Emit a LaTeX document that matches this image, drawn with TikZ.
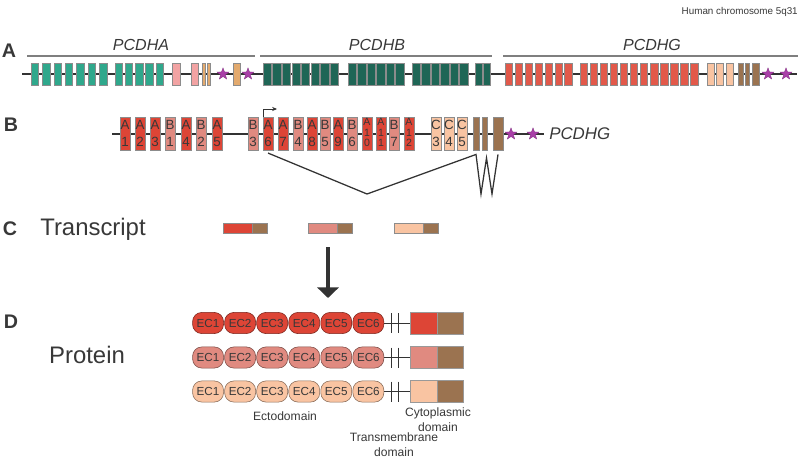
\documentclass[tikz,border=0pt]{standalone}
\usepackage{fontspec}
\setmainfont{Liberation Sans}
\usetikzlibrary{shapes.geometric,arrows.meta}

\definecolor{txt}{HTML}{383838}
\definecolor{chrline}{HTML}{333333}
\definecolor{bracket}{HTML}{7F7F7F}
\definecolor{alphaTeal}{HTML}{2FA88C}
\definecolor{alphaPink}{HTML}{F2A3A3}
\definecolor{alphaTan}{HTML}{E3AA6E}
\definecolor{betaGreen}{HTML}{1F6656}
\definecolor{gammaRed}{HTML}{E2594A}
\definecolor{gammaA}{HTML}{DD4536}
\definecolor{gammaB}{HTML}{E08A80}
\definecolor{gammaC}{HTML}{F9C4A2}
\definecolor{constBrown}{HTML}{9B7350}
\definecolor{starPurple}{HTML}{A93FA8}

\begin{document}
\begin{tikzpicture}[x=0.025cm, y=-0.025cm,
  exon/.style={draw=black!45, line width=0.3pt},
  bexon/.style={rectangle, draw=black!45, line width=0.3pt, inner sep=0pt,
    minimum width=6.8pt, minimum height=23.5pt},
  exnum/.style={inner sep=0pt, text=txt, font=\fontsize{9.5}{10}\selectfont},
  exsmall/.style={inner sep=0pt, text=txt, font=\fontsize{7.5}{8}\selectfont},
  cstar/.style={star, star points=5, star point ratio=2.4, fill=starPurple,
    draw=starPurple!75!black, line width=0.2pt, inner sep=0pt, minimum size=8.8pt},
  panel/.style={text=txt, font=\fontsize{14}{16}\selectfont\bfseries, inner sep=0pt},
  genelbl/.style={text=txt, font=\fontsize{11.4}{13}\selectfont\itshape, inner sep=0pt},
  biglbl/.style={text=txt, font=\fontsize{17}{19}\selectfont, inner sep=0pt},
  smalllbl/.style={text=txt, font=\fontsize{8.6}{10.5}\selectfont, inner sep=0pt, align=center},
  ecdom/.style={rounded corners=6.5pt, draw=#1!55!black, fill=#1, line width=0.4pt,
    minimum width=22pt, minimum height=15pt, inner sep=0pt, text=txt,
    font=\fontsize{8.3}{9}\selectfont},
  cytobox/.style={rectangle, draw=black!40, line width=0.3pt, inner sep=0pt,
    minimum height=15.6pt}]
\useasboundingbox (0,0) rectangle (800,461);

\node [text=txt, font=\fontsize{7}{8}\selectfont, anchor=east, inner sep=0pt] (chrom) at (798,12) {Human chromosome 5q31};

% A: the three clusters
\node [panel] (labA) at (9,51) {A};
\draw [bracket, line width=1.2pt] (27,56) -- (255,56);
\draw [bracket, line width=1.2pt] (260,56) -- (492,56);
\draw [bracket, line width=1.2pt] (503,56) -- (798,56);
\node [genelbl] (pcdha) at (141,45) {PCDHA};
\node [genelbl] (pcdhb) at (377,45) {PCDHB};
\node [genelbl] (pcdhg) at (652,45) {PCDHG};
\draw [chrline, line width=1.4pt] (22,74) -- (797,74);
\foreach \i in {0,...,6}
  \filldraw [exon, fill=alphaTeal] (31+11.4*\i,63) rectangle ++(7.5,22);
\foreach \i in {0,...,4}
  \filldraw [exon, fill=alphaTeal] (115+10.2*\i,63) rectangle ++(7.5,22);
\filldraw [exon, fill=alphaPink] (172,63) rectangle (180,85);
\filldraw [exon, fill=alphaPink] (191,63) rectangle (198,85);
\filldraw [exon, fill=alphaTan] (202,63) rectangle (205.5,85);
\filldraw [exon, fill=alphaTan] (207,63) rectangle (210.5,85);
\filldraw [exon, fill=alphaTan] (233,63) rectangle (240,85);
\node [cstar] (sa1) at (223,74) {};
\node [cstar] (sa2) at (248,74) {};
\foreach \i in {0,...,7}
  \filldraw [exon, fill=betaGreen] (263+9.6*\i,63) rectangle ++(8.3,22);
\foreach \i in {0,...,5}
  \filldraw [exon, fill=betaGreen] (348+9.5*\i,63) rectangle ++(8.3,22);
\foreach \i in {0,...,5}
  \filldraw [exon, fill=betaGreen] (412+9.5*\i,63) rectangle ++(8.3,22);
\foreach \i in {0,1}
  \filldraw [exon, fill=betaGreen] (475+8*\i,63) rectangle ++(7,22);
\foreach \i in {0,...,6}
  \filldraw [exon, fill=gammaRed] (505+9.95*\i,63) rectangle ++(7.3,22);
\foreach \i in {0,...,11}
  \filldraw [exon, fill=gammaRed] (580+10.06*\i,63) rectangle ++(7.3,22);
\foreach \i in {0,...,2}
  \filldraw [exon, fill=gammaC] (707+9.5*\i,63) rectangle ++(7,22);
\filldraw [exon, fill=constBrown] (738,63) rectangle (743,85);
\filldraw [exon, fill=constBrown] (745,63) rectangle (749,85);
\filldraw [exon, fill=constBrown] (752,63) rectangle (759,85);
\node [cstar] (sg1) at (768,74) {};
\node [cstar] (sg2) at (786,74) {};

% B: PCDHG in detail
\node [panel] (labB) at (11,125) {B};
\draw [chrline, line width=1.4pt] (112,134) -- (544,134);
\foreach \x/\col/\l/\n in {125/gammaA/A/1, 140/gammaA/A/2, 155/gammaA/A/3,
    170/gammaB/B/1, 186/gammaA/A/4, 201/gammaB/B/2, 217/gammaA/A/5,
    253/gammaB/B/3, 268/gammaA/A/6, 283/gammaA/A/7, 298/gammaB/B/4,
    312/gammaA/A/8, 325/gammaB/B/5, 338/gammaA/A/9, 352/gammaB/B/6,
    394/gammaB/B/7, 436/gammaC/C/3, 449/gammaC/C/4, 462/gammaC/C/5} {
  \node [bexon, fill=\col] (\l\n) at (\x,133.5) {};
  \node [exnum] (\l\n-top) at (\x,125) {\l};
  \node [exnum] (\l\n-bot) at (\x,142) {\n};
}
\foreach \x/\n/\m in {367/1/0, 381/1/1, 409/1/2} {
  \node [bexon, fill=gammaA] (A\n\m) at (\x,133.5) {};
  \node [exsmall] (A\n\m-top) at (\x,122) {A};
  \node [exsmall] (A\n\m-mid) at (\x,132.5) {\n};
  \node [exsmall] (A\n\m-bot) at (\x,143) {\m};
}
\node [bexon, fill=constBrown, minimum width=4.3pt] (cb1) at (476,133.5) {};
\node [bexon, fill=constBrown, minimum width=3.6pt] (cb2) at (484.5,133.5) {};
\node [bexon, fill=constBrown, minimum width=7.1pt] (cb3) at (498,133.5) {};
\node [cstar] (sb1) at (511,134) {};
\node [cstar] (sb2) at (533,134) {};
\node [genelbl, font=\fontsize{12}{14}\selectfont\itshape, anchor=west] (pcdhgB) at (549,134) {PCDHG};
\coordinate (tss) at (277,109);
\draw [chrline, line width=0.6pt, -{Stealth[length=3.5pt,width=3pt]}] (A6.north west) |- (tss);
\coordinate (spliceLow) at (367,194);
\coordinate (w1) at (481,194);
\coordinate (wmid) at (486.5,158);
\coordinate (w2) at (492,194);
\draw [chrline, line width=0.9pt] ([yshift=-2pt]A6.south) -- (spliceLow)
  -- ([yshift=-3pt]cb1.south) -- (w1) -- (wmid) -- (w2) -- ([yshift=-3pt]cb3.south);

% C: transcripts
\node [panel] (labC) at (10,229) {C};
\node [biglbl, anchor=west] (transcript) at (40,229) {Transcript};
\filldraw [exon, fill=gammaA] (223,223) rectangle (252,233);
\filldraw [exon, fill=constBrown] (252,223) rectangle (267,233);
\filldraw [exon, fill=gammaB] (308,223) rectangle (337,233);
\filldraw [exon, fill=constBrown] (337,223) rectangle (352,233);
\filldraw [exon, fill=gammaC] (394,223) rectangle (423,233);
\filldraw [exon, fill=constBrown] (423,223) rectangle (438,233);
\coordinate (arrTop) at (328,247);
\coordinate (arrBot) at (328,298);
\draw [chrline, line width=2.8pt, -{Triangle[width=15pt,length=7.5pt]}] (arrTop) -- (arrBot);

% D: proteins
\node [panel] (labD) at (11,322) {D};
\node [biglbl] (protein) at (87,355) {Protein};
\foreach \r/\y/\col in {1/323/gammaA, 2/357.5/gammaB, 3/391.5/gammaC} {
  \foreach \i in {1,...,6}
    \node [ecdom=\col] (ec\r\i) at (176+32.06*\i,\y) {EC\i};
  \node [cytobox, fill=\col, minimum width=19.2pt] (cyto\r) at (423.5,\y) {};
  \node [cytobox, fill=constBrown, minimum width=18.5pt] (tail\r) at (450,\y) {};
  \draw [chrline, line width=0.6pt] (ec\r6.east) -- (cyto\r.west);
  \draw [chrline, line width=0.7pt] (391.7,\y-10) -- (391.7,\y+10);
  \draw [chrline, line width=0.7pt] (398,\y-10) -- (398,\y+10);
}
\node [smalllbl] (ecto) at (285,416) {Ectodomain};
\node [smalllbl] (cytolbl) at (438,420) {Cytoplasmic\\domain};
\node [smalllbl] (tmlbl) at (394,445) {Transmembrane\\domain};
\end{tikzpicture}
\end{document}
